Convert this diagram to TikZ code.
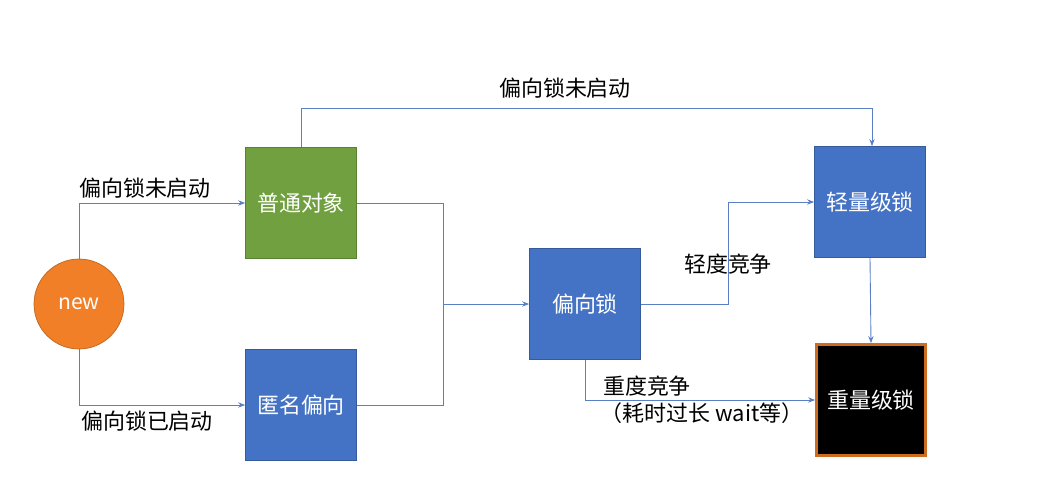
\documentclass[tikz,border=0pt]{standalone}
\usepackage{fontspec}
\setmainfont{Noto Sans CJK SC}
\usetikzlibrary{arrows.meta}
\definecolor{lockblue}{HTML}{4472C4}
\definecolor{lockgreen}{HTML}{70A03F}
\definecolor{lockorange}{HTML}{F07F27}
\definecolor{lockline}{HTML}{5B7FC4}
\tikzset{
  box/.style={draw=lockblue!80!black, fill=lockblue, text=white, minimum width=2.22cm, minimum height=2.22cm, font=\fontsize{12.5}{15}\selectfont},
  conn/.style={draw=lockline, line width=0.5pt, -{Stealth[length=4pt]}},
  lbl/.style={font=\fontsize{12.5}{15}\selectfont}
}
\begin{document}
\begin{tikzpicture}[x=0.02cm,y=-0.02cm]
	\useasboundingbox (0,0) rectangle (1037,500);
	\node[circle, draw=lockorange!80!black, fill=lockorange, text=white, minimum size=1.8cm, font=\fontsize{12}{14}\selectfont] (new) at (79,304) {new};
	\node[box, fill=lockgreen, draw=lockgreen!80!black] (plain) at (301,203) {普通对象};
	\node[box] (anon) at (301,405) {匿名偏向};
	\node[box] (biased) at (585,304) {偏向锁};
	\node[box] (light) at (870,202) {轻量级锁};
	\node[box, fill=black, draw=lockorange!85!black, line width=1.6pt, minimum width=2.18cm] (heavy) at (871,400) {重量级锁};

	% new -> first objects
	\draw[conn] (new.north) |- (plain.west);
	\draw[conn] (new.south) |- (anon.west);
	\node[lbl] (l1) at (145,188) {偏向锁未启动};
	\node[lbl] (l2) at (147,421) {偏向锁已启动};

	% to biased lock
	\coordinate (join) at (443,304);
	\draw[lockline, line width=0.5pt] (plain.east) -| (join);
	\draw[lockline, line width=0.5pt] (anon.east) -| (join);
	\draw[conn] (join) -- (biased.west);

	% top route
	\coordinate (tl) at (301,108);
	\coordinate (tr) at (872,108);
	\draw[conn] (plain.north) -- (tl) -- (tr) -- (light.north -| tr);
	\node[lbl] (l3) at (565,88) {偏向锁未启动};

	% contention
	\coordinate (mid) at (728,304);
	\draw[conn] (biased.east) -- (mid) |- (light.west);
	\node[lbl] (l4) at (728,264) {轻度竞争};
	\draw[conn] (biased.south) |- (heavy.west);
	\node[lbl] (l5) at (647,386) {重度竞争};
	\node[lbl] (l6) at (702,413) {（耗时过长 wait等）};

	\draw[conn] (light.south) -- (heavy.north);
\end{tikzpicture}
\end{document}
